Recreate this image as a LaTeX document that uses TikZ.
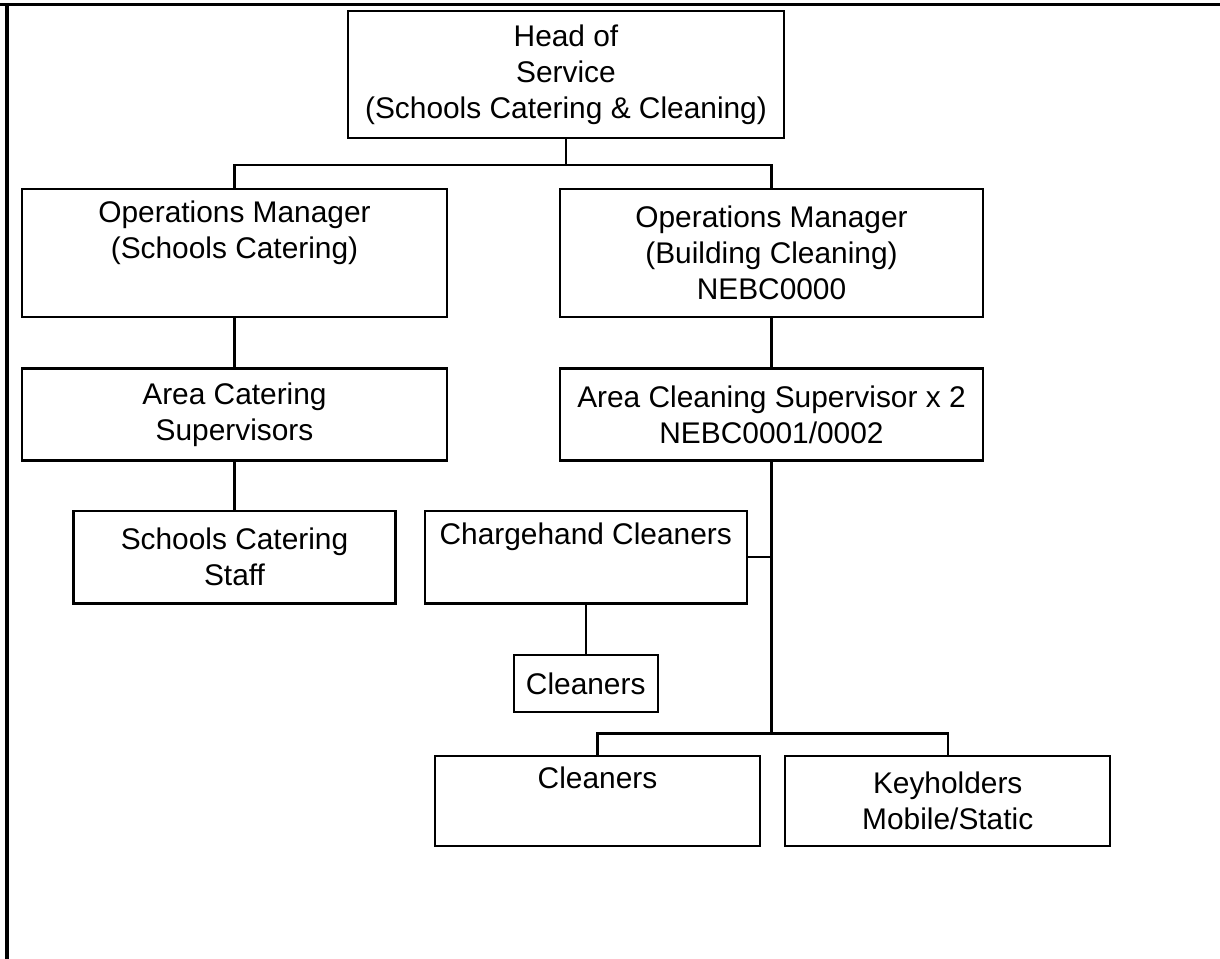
\documentclass[tikz,border=0pt]{standalone}
\usepackage{fontspec}
\setmainfont{Liberation Sans}
\usetikzlibrary{positioning}

\begin{document}
\begin{tikzpicture}[
    x=0.02cm, y=-0.02cm,
    post/.style={draw, rectangle, line width=1.3pt, align=center, inner sep=0pt,
                 font=\fontsize{17}{20.5}\selectfont},
    link/.style={draw, line width=1.3pt},
    frame/.style={draw, line width=2pt}
]
\useasboundingbox (0,0) rectangle (1220,959);

% outer frame (top and left only)
\draw[frame] (0,4.5) -- (1220,4.5);
\draw[frame] (7,4.5) -- (7,959);

% head of service
\node[post, anchor=north, minimum width=8.72cm, minimum height=2.54cm] (head) at (566,10)
    {Head of\\Service\\(Schools Catering \& Cleaning)};

% operations managers
\node[post, anchor=north, minimum width=8.5cm, minimum height=2.56cm] (opscat) at (234.5,188)
    {Operations Manager\\(Schools Catering)\\\strut};
\node[post, anchor=north, minimum width=8.46cm, minimum height=2.56cm] (opsclean) at (771.5,188)
    {Operations Manager\\(Building Cleaning)\\NEBC0000};

% area supervisors
\node[post, below=0.98cm of opscat, minimum width=8.5cm, minimum height=1.84cm] (areacat)
    {Area Catering\\Supervisors};
\node[post, below=0.98cm of opsclean, minimum width=8.46cm, minimum height=1.84cm] (areaclean)
    {Area Cleaning Supervisor x 2\\NEBC0001/0002};

% staff level
\node[post, below=0.96cm of areacat, minimum width=6.44cm, minimum height=1.86cm] (staff)
    {Schools Catering\\Staff};
\node[post, right=0.54cm of staff, minimum width=6.44cm, minimum height=1.86cm] (chargehand)
    {Chargehand Cleaners\\\strut};
\node[post, below=0.98cm of chargehand, minimum width=2.88cm, minimum height=1.14cm] (cleanersa)
    {Cleaners};

% bottom row
\node[post, anchor=north, minimum width=6.5cm, minimum height=1.8cm] (cleanersb) at (597.5,755)
    {Cleaners\\\strut};
\node[post, right=0.46cm of cleanersb, minimum width=6.5cm, minimum height=1.8cm] (keyholders)
    {Keyholders\\Mobile/Static};

% connectors
\draw[link] (head.south) -- ++(0,26) coordinate (hb);
\draw[link] (opscat.north) |- (hb) -| (opsclean.north);
\draw[link] (opscat) -- (areacat);
\draw[link] (opsclean) -- (areaclean);
\draw[link] (areacat) -- (staff);
\draw[link] (areaclean.south) -- ++(0,272) coordinate (cb);
\draw[link] (chargehand.east) -- (chargehand.east -| areaclean.south);
\draw[link] (chargehand) -- (cleanersa);
\draw[link] (cleanersb.north) |- (cb) -| (keyholders.north);

\end{tikzpicture}
\end{document}
